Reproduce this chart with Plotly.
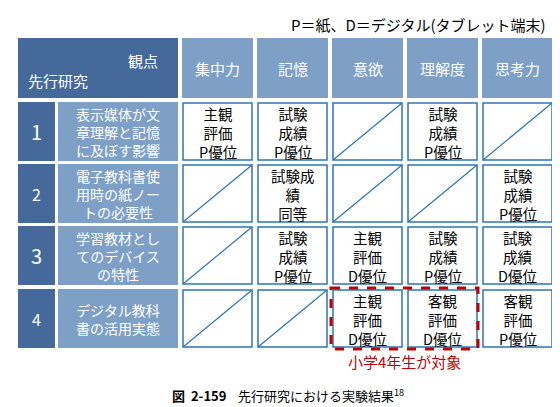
import plotly.graph_objects as go

aspects = ["集中力", "記憶", "意欲", "理解度", "思考力"]
study_nums = ["1", "2", "3", "4"]
study_titles = ["表示媒体が文<br>章理解と記憶<br>に及ぼす影響",
                "電子教科書使<br>用時の紙ノー<br>トの必要性",
                "学習教材とし<br>てのデバイス<br>の特性",
                "デジタル教科<br>書の活用実態"]
# None = no study (diagonal line)
results = [
    ["主観<br>評価<br>P優位", "試験<br>成績<br>P優位", None, "試験<br>成績<br>P優位", None],
    [None, "試験成<br>績<br>同等", None, None, "試験<br>成績<br>P優位"],
    [None, "試験<br>成績<br>P優位", "主観<br>評価<br>D優位", "試験<br>成績<br>P優位", "試験<br>成績<br>D優位"],
    [None, None, "主観<br>評価<br>D優位", "客観<br>評価<br>D優位", "客観<br>評価<br>P優位"],
]

FONT = "Noto Sans CJK JP"
DARK = "#44699a"
LIGHT = "#7e9fc6"
LINE = "#2e75b6"

col_x = [174, 249, 324, 399, 474]
col_w = 71
row_y = [94, 156, 218, 281]
row_h = 59

fig = go.Figure()
shapes, ann = [], []

def box(x0, y0, x1, y1, fill, line=None, lw=1.5, dash="solid"):
    shapes.append(dict(type="rect", x0=x0, y0=y0, x1=x1, y1=y1, fillcolor=fill,
                       line=dict(color=line or fill, width=lw if line else 0, dash=dash)))

def text(x, y, s, size=15, color="black", **kw):
    ann.append(dict(x=x, y=y, text=s, showarrow=False, font=dict(family=FONT, size=size, color=color), **kw))

# header
box(10, 30, 170, 90, DARK)
text(152, 52, "観点", color="white", xanchor="right")
text(18, 72, "先行研究", color="white", xanchor="left")
for i, a in enumerate(aspects):
    box(col_x[i], 30, col_x[i] + col_w, 90, LIGHT)
    text(col_x[i] + col_w / 2, 60, a, color="white")

for r in range(4):
    y0 = row_y[r]
    box(10, y0, 47, y0 + row_h, DARK)
    text(28.5, y0 + row_h / 2, study_nums[r], size=20 if r % 2 == 0 else 16, color="white")
    box(50, y0, 170, y0 + row_h, LIGHT)
    text(110, y0 + row_h / 2, study_titles[r], size=14, color="white")
    for c in range(5):
        x0 = col_x[c]
        box(x0 + 1, y0 + 1, x0 + col_w - 1, y0 + row_h - 1, "white", LINE, 1.5)
        v = results[r][c]
        if v is None:
            shapes.append(dict(type="line", x0=x0 + 1, y0=y0 + row_h - 1, x1=x0 + col_w - 1, y1=y0 + 1,
                               line=dict(color=LINE, width=1.2)))
        else:
            text(x0 + col_w / 2, y0 + row_h / 2 + 1, v, size=14.5)

# red dashed highlight
shapes.append(dict(type="rect", x0=323, y0=280, x1=470, y1=341, fillcolor="rgba(0,0,0,0)",
                   line=dict(color="#c00000", width=3, dash="dash")))
text(396, 353, "小学4年生が対象", size=15, color="#c00000")
text(540, 16, "P＝紙、D＝デジタル(タブレット端末)", size=15, xanchor="right")
text(280, 387, "<b>図  2-159</b>    先行研究における実験結果<sup>18</sup>", size=13)

fig.add_trace(go.Scatter(x=[0], y=[0], mode="markers", marker=dict(opacity=0), hoverinfo="skip"))
fig.update_layout(width=560, height=407, margin=dict(l=0, r=0, t=0, b=0),
                  plot_bgcolor="white", paper_bgcolor="white", showlegend=False,
                  shapes=shapes, annotations=ann,
                  xaxis=dict(range=[0, 560], visible=False, fixedrange=True),
                  yaxis=dict(range=[407, 0], visible=False, fixedrange=True))
fig.write_html("out.html")
